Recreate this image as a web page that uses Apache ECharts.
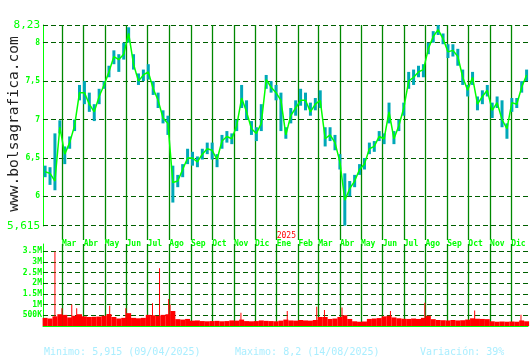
<!DOCTYPE html>
<html><head><meta charset="utf-8">
<script src="https://cdn.jsdelivr.net/npm/echarts@6/dist/echarts.min.js"></script>
<style>html,body{margin:0;padding:0;background:#fff}#c{width:530px;height:360px}</style>
</head><body><div id="c"></div>
<script>
// Weekly samples (one per week)
const weekDates = ['2024-02-06','2024-02-13','2024-02-20','2024-02-27','2024-03-05','2024-03-12','2024-03-19','2024-03-26','2024-04-02','2024-04-09',
'2024-04-16','2024-04-23','2024-04-30','2024-05-07','2024-05-14','2024-05-21','2024-05-28','2024-06-04','2024-06-11','2024-06-18',
'2024-06-25','2024-07-02','2024-07-09','2024-07-16','2024-07-23','2024-07-30','2024-08-06','2024-08-13','2024-08-20','2024-08-27',
'2024-09-03','2024-09-10','2024-09-17','2024-09-24','2024-10-01','2024-10-08','2024-10-15','2024-10-22','2024-10-29','2024-11-05',
'2024-11-12','2024-11-19','2024-11-26','2024-12-03','2024-12-10','2024-12-17','2024-12-24','2024-12-31','2025-01-07','2025-01-14',
'2025-01-21','2025-01-28','2025-02-04','2025-02-11','2025-02-18','2025-02-25','2025-03-04','2025-03-11','2025-03-18','2025-03-25',
'2025-04-01','2025-04-08','2025-04-15','2025-04-22','2025-04-29','2025-05-06','2025-05-13','2025-05-20','2025-05-27','2025-06-03',
'2025-06-10','2025-06-17','2025-06-24','2025-07-01','2025-07-08','2025-07-15','2025-07-22','2025-07-29','2025-08-05','2025-08-12',
'2025-08-19','2025-08-26','2025-09-02','2025-09-09','2025-09-16','2025-09-23','2025-09-30','2025-10-07','2025-10-14','2025-10-21',
'2025-10-28','2025-11-04','2025-11-11','2025-11-18','2025-11-25','2025-12-02','2025-12-09','2025-12-16','2025-12-23'];

const closePrice = [6.32,6.30,6.20,6.90,6.55,6.70,6.92,7.35,7.35,7.20,
7.10,7.30,7.45,7.62,7.82,7.78,7.85,8.12,7.72,7.50,
7.58,7.62,7.40,7.25,7.02,6.95,6.18,6.20,6.35,6.50,
6.50,6.45,6.55,6.62,6.60,6.48,6.72,6.78,6.75,6.92,
7.28,7.10,6.88,6.82,6.95,7.52,7.42,7.35,7.25,6.80,
7.05,7.15,7.25,7.25,7.10,7.20,7.25,6.75,6.80,6.70,
6.45,5.95,6.10,6.20,6.35,6.42,6.62,6.65,6.78,6.75,
7.10,6.75,6.92,7.15,7.50,7.55,7.62,7.65,7.92,8.08,
8.17,8.05,7.88,7.90,7.82,7.55,7.38,7.55,7.20,7.30,
7.38,7.12,7.22,7.00,6.88,7.22,7.20,7.42,7.58];

const highPrice = [6.40,6.38,6.82,6.99,6.65,6.78,7.00,7.45,7.50,7.35,
7.20,7.40,7.50,7.70,7.90,7.85,8.00,8.20,7.85,7.60,
7.65,7.72,7.50,7.35,7.12,7.05,6.40,6.28,6.42,6.62,
6.58,6.52,6.62,6.70,6.70,6.55,6.80,6.85,6.82,7.00,
7.45,7.25,6.98,6.90,7.20,7.58,7.50,7.45,7.35,6.90,
7.15,7.25,7.40,7.35,7.22,7.28,7.38,6.90,6.90,6.80,
6.55,6.30,6.20,6.28,6.42,6.50,6.70,6.72,6.85,6.82,
7.22,6.85,7.00,7.22,7.62,7.65,7.70,7.72,8.00,8.15,
8.23,8.12,7.98,7.98,7.92,7.65,7.45,7.62,7.30,7.38,
7.45,7.22,7.30,7.25,6.95,7.28,7.28,7.50,7.65];

const lowPrice = [6.25,6.15,6.08,6.82,6.42,6.62,6.85,7.25,7.20,7.10,
6.98,7.20,7.40,7.55,7.72,7.62,7.78,8.00,7.65,7.45,
7.50,7.52,7.32,7.15,6.95,6.80,5.92,6.12,6.25,6.42,
6.40,6.38,6.48,6.55,6.48,6.38,6.62,6.70,6.68,6.85,
7.15,7.00,6.80,6.72,6.85,7.40,7.35,7.25,6.85,6.75,
6.95,7.05,7.18,7.12,7.05,7.12,7.15,6.65,6.72,6.60,
6.35,5.62,6.00,6.12,6.28,6.35,6.55,6.58,6.72,6.68,
6.95,6.68,6.85,7.05,7.40,7.45,7.55,7.55,7.85,8.00,
8.10,7.98,7.80,7.82,7.70,7.45,7.30,7.45,7.12,7.20,
7.30,7.02,7.15,6.90,6.75,7.10,7.15,7.35,7.50];

const weeklyVolume = [380000,350000,450000,550000,520000,400000,480000,550000,450000,420000,
430000,440000,480000,560000,420000,350000,380000,600000,380000,360000,
380000,520000,500000,470000,520000,550000,700000,320000,300000,330000,
250000,260000,230000,220000,230000,240000,220000,230000,260000,250000,
300000,230000,220000,230000,260000,240000,230000,220000,250000,300000,
260000,250000,280000,260000,250000,280000,420000,420000,330000,350000,
420000,500000,330000,220000,200000,210000,330000,350000,370000,450000,
480000,400000,360000,340000,330000,350000,330000,380000,480000,320000,
280000,270000,260000,280000,260000,270000,300000,360000,340000,330000,
320000,220000,200000,210000,200000,210000,200000,260000,220000];

// Single-day volume spikes
const spikeDates = ['2024-02-20','2024-03-01','2024-03-15','2024-03-22','2024-05-08','2024-05-31','2024-07-08','2024-07-18','2024-07-31','2024-08-02',
'2024-11-11','2025-01-16','2025-02-27','2025-03-10','2025-04-04','2025-06-12','2025-07-31','2025-10-10','2025-12-15'];
const spikeVolume = [3480000,830000,1000000,830000,940000,830000,1060000,2700000,1260000,1000000,
620000,700000,900000,750000,860000,700000,1090000,720000,520000];

// Axis ticks / labels
const monthTicks = ['2024-03-01','2024-04-01','2024-05-01','2024-06-01','2024-07-01','2024-08-01','2024-09-01','2024-10-01','2024-11-01','2024-12-01',
'2025-01-01','2025-02-01','2025-03-01','2025-04-01','2025-05-01','2025-06-01','2025-07-01','2025-08-01','2025-09-01','2025-10-01','2025-11-01','2025-12-01'];
const monthNames = ['Ene','Feb','Mar','Abr','May','Jun','Jul','Ago','Sep','Oct','Nov','Dic'];
const priceTicks = [5.615,6,6.5,7,7.5,8,8.23];
const volumeTicks = [500000,1000000,1500000,2000000,2500000,3000000,3500000];
const xMin = '2024-02-03', xMax = '2025-12-25';
const priceMin = 5.615, priceMax = 8.23, volMax = 3830000;
const siteText = 'www.bolsagrafica.com';
const footMin = 'Minimo: 5,915 (09/04/2025)';
const footMax = 'Maximo: 8,2 (14/08/2025)';
const footVar = 'Variación: 39%';

const mono = '"DejaVu Sans Mono", monospace';
const lime = '#00ff00';
const vGreen = '#008800';
const dGreen = '#005f00';
const teal = '#00a8b8';

function ts(s){ const p = s.split('-'); return new Date(+p[0], +p[1]-1, +p[2]).getTime(); }
const monthTs = monthTicks.map(ts);
const weekTs = weekDates.map(ts);

const priceGridLines = priceTicks.map(v => ({yAxis: v, lineStyle:{type:[5,3], color:dGreen, width:1}}))
  .concat(monthTs.map(t => ({xAxis: t, lineStyle:{type:'solid', color:vGreen, width:1.3}})));
const volGridLines = volumeTicks.map(v => ({yAxis: v, lineStyle:{type:[5,3], color:dGreen, width:1}}))
  .concat(monthTs.map(t => ({xAxis: t, lineStyle:{type:'solid', color:vGreen, width:1.3}})));

const chart = echarts.init(document.getElementById('c'), null, {renderer:'canvas'});
chart.setOption({
  animation: false,
  backgroundColor: '#ffffff',
  grid: [
    {left:43, right:2, top:25, height:201},
    {left:43, right:2, top:244, height:82}
  ],
  xAxis: [
    {type:'value', gridIndex:0, min:ts(xMin), max:ts(xMax), scale:true,
     axisLine:{show:false},
     axisTick:{show:true, length:14, customValues:monthTs, lineStyle:{color:vGreen, width:1.3}},
     axisLabel:{show:true, customValues:monthTs, align:'left', margin:6, hideOverlap:false,
       showMinLabel:true, showMaxLabel:true,
       formatter: function(v){ const d = new Date(v); const m = d.getMonth();
         return '{y|' + (m===0 ? d.getFullYear() : ' ') + '}\n{m|' + monthNames[m] + '}'; },
       rich:{
         y:{color:'#ff0000', fontSize:8, fontFamily:mono, lineHeight:8, align:'left'},
         m:{color:lime, fontSize:8, fontFamily:mono, fontWeight:'bold', lineHeight:8, align:'left'}
       }},
     splitLine:{show:false}},
    {type:'value', gridIndex:1, min:ts(xMin), max:ts(xMax), scale:true,
     axisLine:{show:true, onZero:false, lineStyle:{color:lime, width:1}},
     axisTick:{show:false}, axisLabel:{show:false}, splitLine:{show:false}},
    {type:'value', gridIndex:1, min:ts(xMin), max:ts(xMax), scale:true, show:false}
  ],
  yAxis: [
    {type:'value', gridIndex:0, min:priceMin, max:priceMax,
     axisLine:{show:true, onZero:false, lineStyle:{color:lime, width:1}},
     axisTick:{show:false}, splitLine:{show:false},
     axisLabel:{customValues:priceTicks, margin:3, showMinLabel:true, showMaxLabel:true,
       formatter: function(v){ const s = String(v).replace('.', ',');
         return (v===priceMin || v===priceMax) ? '{b|' + s + '}' : '{s|' + s + '}'; },
       rich:{
         b:{color:lime, fontSize:11, fontFamily:mono},
         s:{color:lime, fontSize:8, fontFamily:mono, fontWeight:'bold'}
       }}},
    {type:'value', gridIndex:1, min:0, max:volMax,
     axisLine:{show:true, onZero:false, lineStyle:{color:lime, width:1}},
     axisTick:{show:false}, splitLine:{show:false},
     axisLabel:{customValues:volumeTicks, margin:1, color:lime, fontSize:8, fontFamily:mono, fontWeight:'bold',
       formatter: function(v){ return v >= 1000000 ? (v/1000000) + 'M' : (v/1000) + 'K'; }}}
  ],
  series: [
    {name:'rango', type:'custom', xAxisIndex:0, yAxisIndex:0, z:3,
     data: weekTs.map((t,k) => [t, lowPrice[k], highPrice[k]]),
     encode:{x:0, y:[1,2]},
     renderItem: function(params, api){
       const lo = api.coord([api.value(0), api.value(1)]);
       const hi = api.coord([api.value(0), api.value(2)]);
       return {type:'rect', shape:{x:lo[0]-1.5, y:hi[1], width:3, height:Math.max(1, lo[1]-hi[1])},
               style:{fill:teal}};
     },
     markLine:{silent:true, z:1, symbol:['none','none'], label:{show:false}, data: priceGridLines}},
    {name:'cierre', type:'line', xAxisIndex:0, yAxisIndex:0, z:4, showSymbol:false,
     lineStyle:{color:lime, width:1.5}, itemStyle:{color:lime},
     data: weekTs.map((t,k) => [t, closePrice[k]])},
    {name:'volumen', type:'bar', xAxisIndex:1, yAxisIndex:1, barWidth:5, z:3,
     itemStyle:{color:'#ff0000'},
     data: weekTs.map((t,k) => [t, weeklyVolume[k]]),
     markLine:{silent:true, z:1, symbol:['none','none'], label:{show:false}, data: volGridLines}},
    {name:'picos', type:'bar', xAxisIndex:2, yAxisIndex:1, barWidth:1, z:3,
     itemStyle:{color:'#ff0000'},
     data: spikeDates.map((d,k) => [ts(d), spikeVolume[k]])}
  ],
  graphic: [
    {type:'text', x:14, y:124, rotation:Math.PI/2,
     style:{text:siteText, fontSize:14.6, fontFamily:mono, fill:'#222222', align:'center', verticalAlign:'middle'}},
    {type:'text', x:44, y:352, style:{text:footMin, fontSize:10, fontFamily:mono, fill:'#aaeeff', align:'left', verticalAlign:'middle'}},
    {type:'text', x:235, y:352, style:{text:footMax, fontSize:10, fontFamily:mono, fill:'#aaeeff', align:'left', verticalAlign:'middle'}},
    {type:'text', x:420, y:352, style:{text:footVar, fontSize:10, fontFamily:mono, fill:'#aaeeff', align:'left', verticalAlign:'middle'}}
  ]
});
</script>
</body></html>
